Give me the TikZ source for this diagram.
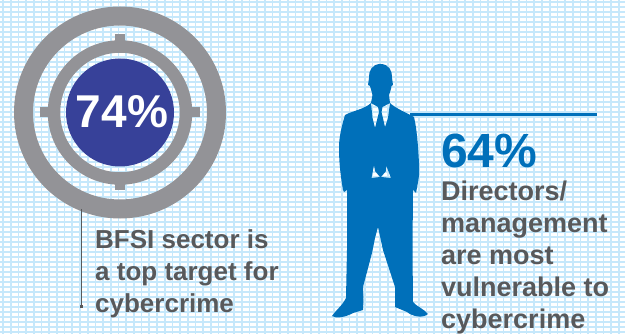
\documentclass[tikz,border=0pt]{standalone}
\usepackage{fontspec}
\setmainfont{Liberation Sans}
\definecolor{gridc}{RGB}{198,232,251}
\definecolor{ringc}{RGB}{147,147,151}
\definecolor{navy}{RGB}{55,65,153}
\definecolor{manblue}{RGB}{0,112,186}
\definecolor{textgrey}{RGB}{88,89,91}
\tikzset{
  px/.style={x=1pt,y=-1pt},
  ring/.style={draw=ringc,fill=none,circle,minimum size=#1,inner sep=0pt},
  tick/.style={fill=ringc,draw=none},
  body/.style={font=\bfseries\fontsize{#1}{32}\selectfont,text=textgrey,align=left,anchor=north west,inner sep=0pt}
}
\begin{document}
\begin{tikzpicture}[px]
\useasboundingbox (0,0) rectangle (625,334);
\fill[white] (0,0) rectangle (625,334);
\draw[gridc,line width=1.9pt] \foreach \y in {2,7,...,334} {(0,\y)--(625,\y)};
\draw[gridc,line width=1.7pt] \foreach \x in {3,10.7,...,625} {(\x,0)--(\x,334)};
\coordinate (c) at (120,112.5);
\node[ring=193pt,line width=19pt] (outer) at (c) {};
\node[ring=132pt,line width=12.5pt] (inner) at (c) {};
\fill[tick] (115,34) rectangle (125,42);
\fill[tick] (115,184) rectangle (125,190.5);
\fill[tick] (40,107.5) rectangle (48,117);
\fill[tick] (192,107.5) rectangle (200,117);
\node[circle,fill=navy,minimum size=108pt,inner sep=0pt] (pct) at (c) {};
\node[text=white,font=\bfseries\fontsize{46}{46}\selectfont,inner sep=0pt] (pctlabel) at (122,112) {74\%};
\coordinate (leadstart) at (81,209);
\coordinate (leadend) at (81,307);
\draw[line width=.7pt,textgrey] (leadstart) -- (leadend);
\fill[textgrey] (79.5,305.5) rectangle (82.5,308.5);
\node[body=26] (t1) at (95,229) {BFSI sector is\\a top target for\\cybercrime};
\fill[manblue,even odd rule] (380.5,64)
 .. controls (372,64) and (368.5,71) .. (369,78)
 -- (368,85) -- (370,86)
 .. controls (371,90) and (372,92) .. (372.5,95)
 -- (371,103)
 .. controls (365,109) and (352,111) .. (345,115)
 .. controls (342,125) and (339,137) .. (339,147)
 .. controls (339,165) and (341,178) .. (343,190)
 -- (344,192) -- (347,190)
 -- (347,250) -- (346,298)
 .. controls (342,306) and (336,310) .. (332,316)
 .. controls (336,319) and (346,317) .. (353,313)
 -- (363,310) -- (363.5,300) -- (363,287)
 -- (372,253) -- (375,238) -- (378,227)
 -- (383,250) -- (395,287) -- (395,307) -- (407,312)
 .. controls (412,316) and (422,319) .. (428,314)
 .. controls (424,309) and (416,306) .. (413,302)
 -- (412.5,250) -- (413,190) -- (416,193)
 .. controls (418,182) and (420,175) .. (419,163)
 .. controls (418,145) and (417,130) .. (414,117)
 .. controls (405,112) and (395,108) .. (390,103)
 -- (389,95)
 .. controls (390,92) and (391,90) .. (391.5,86)
 -- (393,85) -- (392,78)
 .. controls (392.5,71) and (389,64) .. (380.5,64) -- cycle
 (371,103) -- (378,107) -- (379,112) -- (375,128) -- (372.5,118) -- cycle
 (390,103) -- (382.5,107) -- (381.5,112) -- (385,127) -- (388,118) -- cycle
 (374,165) -- (375,171) -- (380,177) -- (371.5,178) -- cycle
 (386,165) -- (386,171) -- (381,177) -- (391,178) -- cycle;
\coordinate (rulestart) at (410,114.3);
\coordinate (ruleend) at (597,114.3);
\draw[manblue,line width=2.7pt] (rulestart) -- (ruleend);
\node[font=\bfseries\fontsize{48}{48}\selectfont,text=manblue,anchor=north west,inner sep=0pt] (big) at (441,134) {64\%};
\node[body=27] (t2) at (441,181) {Directors/\\management\\are most\\vulnerable to\\cybercrime};
\end{tikzpicture}
\end{document}
